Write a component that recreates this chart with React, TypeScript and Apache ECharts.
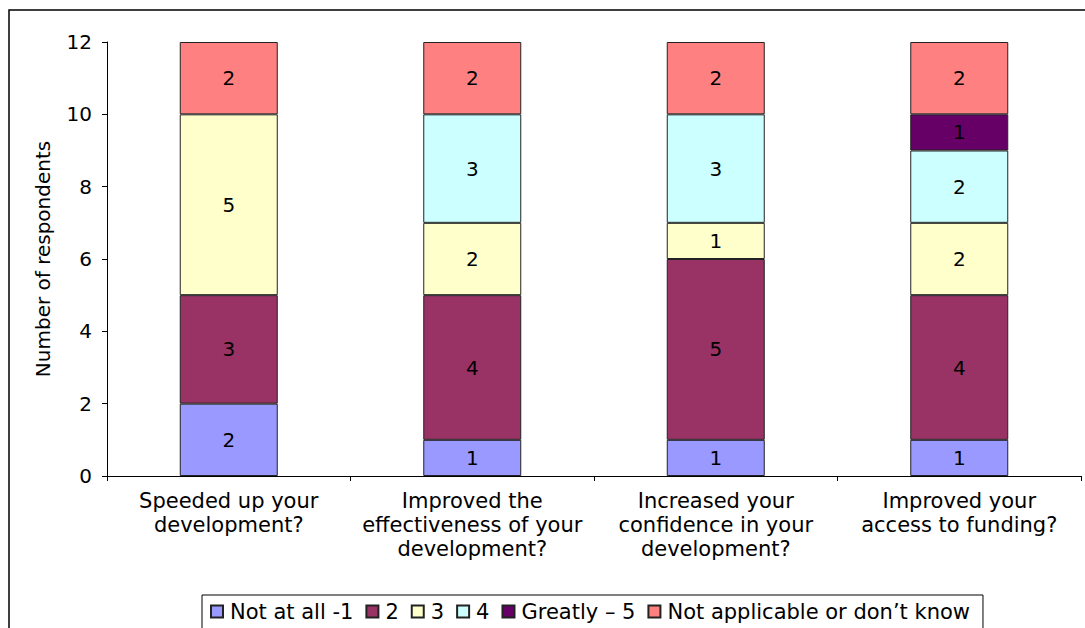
import React, { useEffect, useRef } from "react";
import * as echarts from "echarts";

const categories = [
  "Speeded up your\ndevelopment?",
  "Improved the\neffectiveness of your\ndevelopment?",
  "Increased your\nconfidence in your\ndevelopment?",
  "Improved your\naccess to funding?",
];
const seriesNames = ["Not at all -1", "2", "3", "4", "Greatly \u2013 5", "Not applicable or don\u2019t know"];
const notAtAll = [2, 1, 1, 1];
const two = [3, 4, 5, 4];
const three = [5, 2, 1, 2];
const four = [0, 3, 3, 2];
const greatly = [0, 0, 0, 1];
const notApplicable = [2, 2, 2, 2];
const colors = ["#9999FF", "#993366", "#FFFFCC", "#CCFFFF", "#660066", "#FF8080"];
const yTicks = [0, 2, 4, 6, 8, 10, 12];

const FONT = "DejaVu Sans";
const FS = 20;

export default function App() {
  const ref = useRef<HTMLDivElement>(null);
  useEffect(() => {
    if (!ref.current) return;
    const chart = echarts.init(ref.current, undefined, { renderer: "svg" });
    const data = [notAtAll, two, three, four, greatly, notApplicable];
    chart.setOption({
      animation: false,
      textStyle: { fontFamily: FONT },
      graphic: [
        {
          type: "rect",
          shape: { x: 9, y: 10, width: 1200, height: 800 },
          style: { fill: "none", stroke: "#000", lineWidth: 1.5 },
          z: -1,
        },
      ],
      grid: { left: 107, right: 4, top: 42, bottom: 152 },
      legend: {
        left: 202,
        top: 595,
        data: seriesNames,
        itemWidth: 12,
        itemHeight: 12,
        itemGap: 12,
        padding: [6, 13, 8, 8],
        borderColor: "#000",
        borderWidth: 1,
        backgroundColor: "#fff",
        icon: "rect",
        textStyle: { fontFamily: FONT, fontSize: 21, color: "#000", padding: [0, 0, 0, 2] },
      },
      xAxis: {
        type: "category",
        data: categories,
        axisLine: { lineStyle: { color: "#000", width: 1 } },
        axisTick: { show: true, length: 5, lineStyle: { color: "#000" } },
        axisLabel: {
          interval: 0,
          margin: 13,
          fontFamily: FONT,
          fontSize: 21,
          color: "#000",
          lineHeight: 24,
          verticalAlign: "top",
        },
      },
      yAxis: {
        type: "value",
        min: 0,
        max: 12,
        interval: 2,
        name: "Number of respondents",
        nameLocation: "middle",
        nameGap: 54,
        nameTextStyle: { fontFamily: FONT, fontSize: FS, color: "#000" },
        axisLine: { show: true, lineStyle: { color: "#000", width: 1 } },
        axisTick: { show: true, length: 5, lineStyle: { color: "#000" } },
        splitLine: { show: false },
        axisLabel: {
          fontFamily: FONT,
          fontSize: FS,
          color: "#000",
          margin: 15,
          formatter: (v: number) => (yTicks.includes(v) ? String(v) : ""),
        },
      },
      series: seriesNames.map((name, i) => ({
        name,
        type: "bar",
        stack: "total",
        barWidth: 98,
        data: data[i].map((v) => (v === 0 ? null : v)),
        itemStyle: { color: colors[i], borderColor: "#222", borderWidth: 1 },
        label: {
          show: true,
          position: "inside",
          fontFamily: FONT,
          fontSize: FS,
          color: "#000",
        },
      })),
    });
    return () => chart.dispose();
  }, []);
  return (
    <div
      ref={ref}
      style={{ position: "fixed", left: 0, top: 0, width: 1085, height: 628, background: "#fff" }}
    />
  );
}
